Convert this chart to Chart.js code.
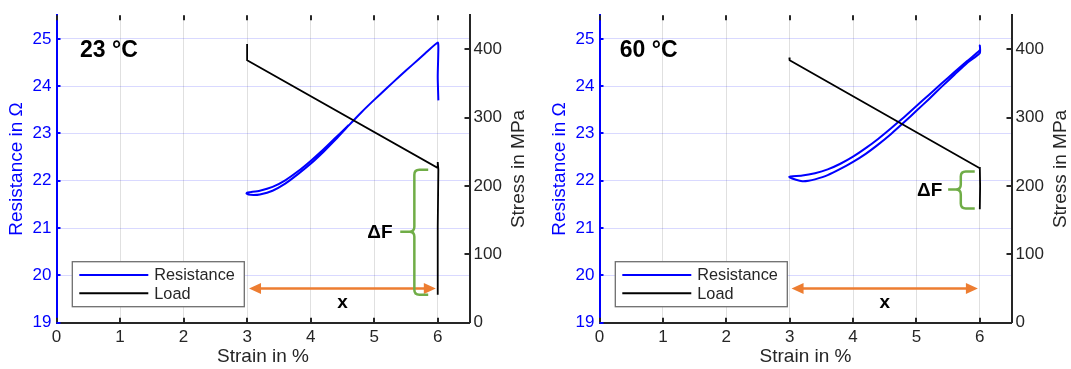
<!DOCTYPE html>
<html>
<head>
<meta charset="utf-8">
<script src="https://cdn.jsdelivr.net/npm/chart.js@4.4.1/dist/chart.umd.min.js"></script>
<style>
  html, body { margin: 0; padding: 0; background: #fff; }
  #wrap { position: relative; width: 1071px; height: 369px; }
  canvas { position: absolute; top: 0; }
  #c23 { left: 0; }
  #c60 { left: 535px; }
</style>
</head>
<body>
<div id="wrap">
  <canvas id="c23" width="535" height="369"></canvas>
  <canvas id="c60" width="536" height="369"></canvas>
</div>
<script>
// 23 °C test: resistance (left axis) and load (right axis) against strain
const strainRes23 = [4.6, 4.4, 4.2, 4.0, 3.8, 3.6, 3.4, 3.2, 3.05, 3.0, 2.99, 3.02, 3.1, 3.2, 3.4, 3.6, 3.8, 4.0, 4.2, 4.4, 4.6, 4.8, 5.0, 5.2, 5.4, 5.6, 5.8, 6.0, 6.01, 6.0, 6.01];
const res23 = [23.18, 22.92, 22.66, 22.42, 22.20, 22.01, 21.87, 21.79, 21.76, 21.75, 21.73, 21.71, 21.70, 21.71, 21.79, 21.94, 22.14, 22.36, 22.61, 22.88, 23.17, 23.45, 23.71, 23.96, 24.21, 24.45, 24.69, 24.92, 24.80, 24.20, 23.70];
const strainLoad23 = [3.0, 3.0, 5.99, 6.0, 6.01, 6.0, 6.0];
const load23 = [408, 384, 227, 235, 224, 140, 41];

// 60 °C test
const strainRes60 = [3.0, 3.2, 3.4, 3.6, 3.8, 4.0, 4.2, 4.4, 4.6, 4.8, 5.0, 5.2, 5.4, 5.6, 5.8, 6.0, 6.0, 6.0, 5.8, 5.6, 5.4, 5.2, 5.0, 4.8, 4.6, 4.4, 4.2, 4.0, 3.8, 3.6, 3.4, 3.3, 3.2, 3.1, 3.0, 2.99];
const res60 = [22.09, 22.11, 22.16, 22.24, 22.36, 22.51, 22.69, 22.89, 23.11, 23.34, 23.58, 23.82, 24.06, 24.30, 24.53, 24.76, 24.86, 24.70, 24.49, 24.24, 23.99, 23.73, 23.48, 23.23, 22.99, 22.77, 22.57, 22.40, 22.25, 22.12, 22.03, 22.00, 21.99, 22.02, 22.07, 22.10];
const strainLoad60 = [2.995, 3.0, 6.0, 6.0, 6.005, 6.0];
const load60 = [388, 384, 226, 228, 200, 166];

// Axis ranges
const strainRange = [0, 6.5];
const resRange = [19, 25.5];
const stressRange = [0, 450];

const FONT = "'Liberation Sans', Arial, Helvetica, sans-serif";
const AXIS_GREY = '#262626';
const BLUE = '#0000FF';
Chart.defaults.font.family = FONT;

// Draw MATLAB-style inward tick marks
const inwardTicks = {
    id: 'inwardTicks',
    afterDraw(chart) {
        const { ctx, chartArea: a, scales } = chart;
        ctx.save();
        ctx.lineWidth = 2;
        ctx.strokeStyle = AXIS_GREY;
        ctx.beginPath();
        scales.x.ticks.forEach(t => {
            const px = Math.round(scales.x.getPixelForValue(t.value));
            ctx.moveTo(px, a.bottom);
            ctx.lineTo(px, a.bottom - 5);
            ctx.moveTo(px, a.top);
            ctx.lineTo(px, a.top + 5);
        });
        scales.y2.ticks.forEach(t => {
            const py = Math.round(scales.y2.getPixelForValue(t.value));
            ctx.moveTo(a.right, py);
            ctx.lineTo(a.right - 5, py);
        });
        ctx.stroke();
        ctx.strokeStyle = BLUE;
        ctx.beginPath();
        scales.y.ticks.forEach(t => {
            const py = Math.round(scales.y.getPixelForValue(t.value));
            ctx.moveTo(a.left, py);
            ctx.lineTo(a.left + 4, py);
        });
        ctx.stroke();

        // right axis title reads bottom-to-top like the left one
        ctx.fillStyle = AXIS_GREY;
        ctx.font = '19px ' + FONT;
        ctx.textAlign = 'center';
        ctx.textBaseline = 'middle';
        ctx.translate(a.right + 49.5, (a.top + a.bottom) / 2);
        ctx.rotate(-Math.PI / 2);
        ctx.fillText('Stress in MPa', 0, 0);
        ctx.restore();
    }
};

// Boxed legend in the lower left of the plot area
const legendBox = {
    id: 'legendBox',
    afterDraw(chart) {
        const { ctx, chartArea: a } = chart;
        const left = a.left + 15.8, top = a.bottom - 61, w = 172, h = 45;
        ctx.save();
        ctx.fillStyle = '#fff';
        ctx.fillRect(left, top, w, h);
        ctx.strokeStyle = '#6e6e6e';
        ctx.lineWidth = 1.3;
        ctx.strokeRect(left, top, w, h);
        chart.data.datasets.forEach((ds, i) => {
            const yy = top + 13.3 + i * 18.3;
            ctx.strokeStyle = ds.borderColor;
            ctx.lineWidth = 2;
            ctx.beginPath();
            ctx.moveTo(left + 7, yy);
            ctx.lineTo(left + 76, yy);
            ctx.stroke();
            ctx.fillStyle = AXIS_GREY;
            ctx.font = '16.3px ' + FONT;
            ctx.textBaseline = 'middle';
            ctx.textAlign = 'left';
            ctx.fillText(ds.label, left + 82, yy + 1);
        });
        ctx.restore();
    }
};

// Temperature label, strain arrow and force-drop brace
const annotate = {
    id: 'annotate',
    afterDatasetsDraw(chart, args, o) {
        const { ctx, scales: { x, y, y2 } } = chart;
        ctx.save();

        ctx.fillStyle = '#000';
        ctx.font = 'bold 23px ' + FONT;
        ctx.textAlign = 'left';
        ctx.textBaseline = 'alphabetic';
        ctx.fillText(o.temp.text, x.getPixelForValue(o.temp.x), y.getPixelForValue(o.temp.y));

        // double-headed orange arrow
        const ax0 = x.getPixelForValue(o.arrow.x0);
        const ax1 = x.getPixelForValue(o.arrow.x1);
        const ay = y2.getPixelForValue(o.arrow.y);
        ctx.strokeStyle = '#ED7D31';
        ctx.fillStyle = '#ED7D31';
        ctx.lineWidth = 2.5;
        ctx.beginPath();
        ctx.moveTo(ax0 + 8, ay);
        ctx.lineTo(ax1 - 8, ay);
        ctx.stroke();
        ctx.beginPath();
        ctx.moveTo(ax0, ay);
        ctx.lineTo(ax0 + 12, ay - 5.5);
        ctx.lineTo(ax0 + 12, ay + 5.5);
        ctx.closePath();
        ctx.moveTo(ax1, ay);
        ctx.lineTo(ax1 - 12, ay - 5.5);
        ctx.lineTo(ax1 - 12, ay + 5.5);
        ctx.closePath();
        ctx.fill();

        ctx.fillStyle = '#000';
        ctx.font = 'bold 19px ' + FONT;
        ctx.textAlign = 'center';
        ctx.fillText('x', x.getPixelForValue(o.xLabel.x), y2.getPixelForValue(o.xLabel.y));
        ctx.fillText('ΔF', x.getPixelForValue(o.dF.x), y2.getPixelForValue(o.dF.y));

        // green curly brace
        const b = o.brace;
        const bx = x.getPixelForValue(b.x), tx = x.getPixelForValue(b.tip);
        const yt = y2.getPixelForValue(b.top), ym = y2.getPixelForValue(b.mid), yb = y2.getPixelForValue(b.bottom);
        const r = 5;
        ctx.strokeStyle = '#70AD47';
        ctx.lineWidth = 2.5;
        ctx.beginPath();
        ctx.moveTo(tx, yt);
        ctx.lineTo(bx + r, yt);
        ctx.quadraticCurveTo(bx, yt, bx, yt + r);
        ctx.lineTo(bx, ym - r);
        ctx.quadraticCurveTo(bx, ym, bx - r, ym);
        ctx.quadraticCurveTo(bx, ym, bx, ym + r);
        ctx.lineTo(bx, yb - r);
        ctx.quadraticCurveTo(bx, yb, bx + r, yb);
        ctx.lineTo(tx, yb);
        ctx.moveTo(x.getPixelForValue(b.dash), ym);
        ctx.lineTo(bx - r, ym);
        ctx.stroke();

        ctx.restore();
    }
};

function toPoints( xs, ys ) {
    return xs.map((v, i) => ({ x: v, y: ys[i] }));
}

function makeChart( id, cfg ) {
    const ctx = document.getElementById(id).getContext('2d');
    return new Chart(ctx, {
        type: 'line',
        data: {
            datasets: [
                {
                    label: 'Resistance',
                    data: toPoints(cfg.strainRes, cfg.res),
                    borderColor: BLUE,
                    borderWidth: 2,
                    pointRadius: 0,
                    tension: 0.2,
                    yAxisID: 'y',
                    order: 1,
                },
                {
                    label: 'Load',
                    data: toPoints(cfg.strainLoad, cfg.load),
                    borderColor: '#000000',
                    borderWidth: 1.8,
                    pointRadius: 0,
                    tension: 0,
                    yAxisID: 'y2',
                    order: 0,
                },
            ],
        },
        options: {
            responsive: false,
            animation: false,
            layout: { padding: { top: 12, left: 0, right: 0, bottom: 0 } },
            plugins: {
                legend: { display: false },
                tooltip: { enabled: false },
                annotate: cfg.annot,
            },
            scales: {
                x: {
                    type: 'linear',
                    min: strainRange[0],
                    max: strainRange[1],
                    ticks: { stepSize: 1, includeBounds: false, padding: 4, color: AXIS_GREY, font: { size: 17 } },
                    grid: { color: 'rgba(0,0,0,0.12)', drawTicks: false },
                    border: { color: AXIS_GREY, width: 2 },
                    title: { display: true, text: 'Strain in %', color: AXIS_GREY, font: { size: 19 }, padding: { top: 0, bottom: 0.5 } },
                    afterFit: s => { s.height = 46.3; },
                },
                y: {
                    position: 'left',
                    min: resRange[0],
                    max: resRange[1],
                    ticks: { stepSize: 1, includeBounds: false, padding: 5, color: BLUE, font: { size: 17 } },
                    grid: { color: 'rgba(0,0,255,0.15)', drawTicks: false },
                    border: { color: BLUE, width: 2 },
                    title: { display: true, text: 'Resistance in Ω', color: BLUE, font: { size: 19 }, padding: { top: cfg.leftTitlePad, bottom: 0 } },
                    afterFit: s => { s.width = cfg.leftW; },
                },
                y2: {
                    position: 'right',
                    min: stressRange[0],
                    max: stressRange[1],
                    ticks: { stepSize: 100, includeBounds: false, padding: 4, color: AXIS_GREY, font: { size: 17 } },
                    grid: { drawOnChartArea: false, drawTicks: false },
                    border: { color: AXIS_GREY, width: 2 },
                    title: { display: false },
                    afterFit: s => { s.width = cfg.rightW; },
                },
            },
        },
        plugins: [inwardTicks, annotate, legendBox],
    });
}

makeChart('c23', {
    strainRes: strainRes23, res: res23, strainLoad: strainLoad23, load: load23,
    leftW: 56.5, rightW: 65.5, leftTitlePad: 5.6,
    annot: {
        temp: { text: '23 °C', x: 0.37, y: 24.61 },
        arrow: { x0: 3.03, x1: 5.97, y: 50 },
        xLabel: { x: 4.5, y: 21 },
        dF: { x: 5.09, y: 123.5 },
        brace: { x: 5.632, tip: 5.85, top: 224, mid: 133, bottom: 41, dash: 5.41 },
    },
});

makeChart('c60', {
    strainRes: strainRes60, res: res60, strainLoad: strainLoad60, load: load60,
    leftW: 64.5, rightW: 59.5, leftTitlePad: 12.9,
    annot: {
        temp: { text: '60 °C', x: 0.32, y: 24.61 },
        arrow: { x0: 3.03, x1: 5.97, y: 50 },
        xLabel: { x: 4.5, y: 21 },
        dF: { x: 5.21, y: 185 },
        brace: { x: 5.70, tip: 5.92, top: 221.3, mid: 194.8, bottom: 167.2, dash: 5.50 },
    },
});
</script>
</body>
</html>
